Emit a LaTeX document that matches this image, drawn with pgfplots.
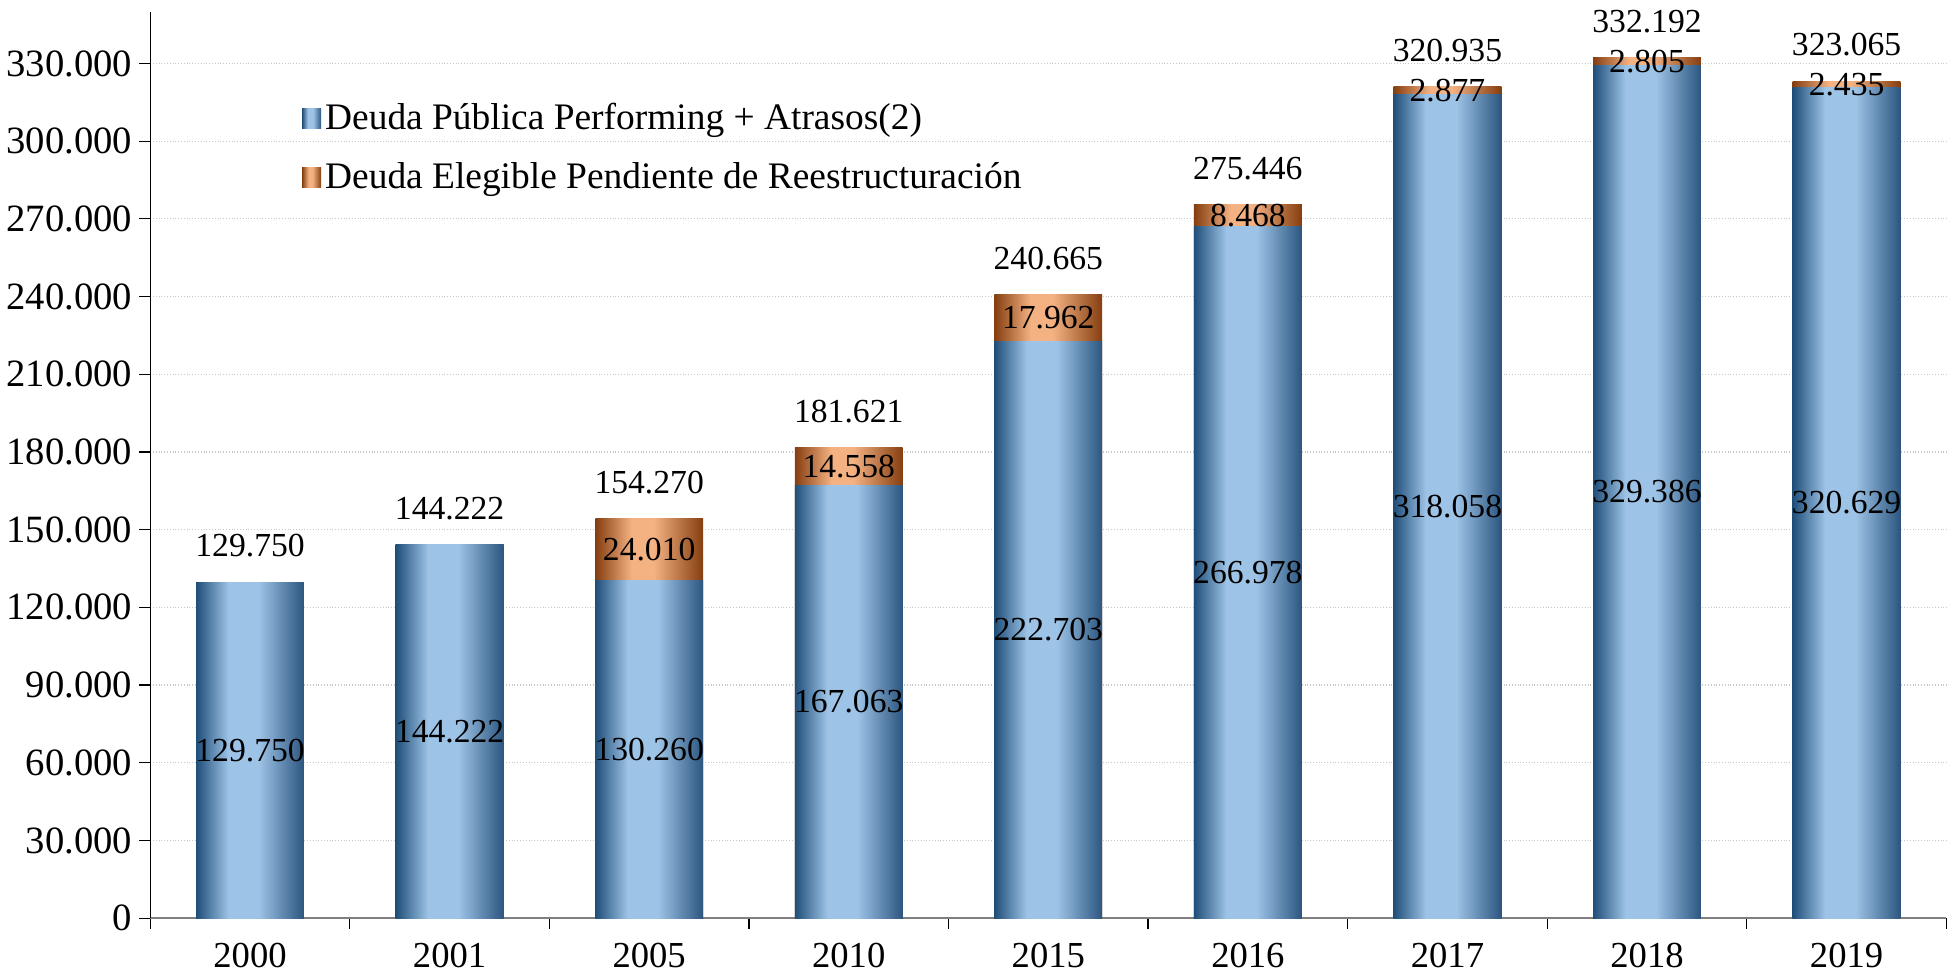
\documentclass[border=0pt]{standalone}
\usepackage{pgfplots}
\pgfplotsset{compat=1.18}
\usepackage{pgfplotstable}
\usepackage{fontspec}
\setmainfont{Liberation Serif}
\definecolor{bdark}{RGB}{31,78,121}
\definecolor{blight}{RGB}{157,195,230}
\definecolor{bdarkr}{RGB}{44,86,128}
\definecolor{odark}{RGB}{133,62,16}
\definecolor{olight}{RGB}{244,178,131}
\definecolor{gridc}{RGB}{200,200,200}
\pgfdeclarehorizontalshading{blueshade}{100bp}{color(0bp)=(bdark); color(25bp)=(bdark); color(40bp)=(blight); color(54bp)=(blight); color(75bp)=(bdarkr); color(100bp)=(bdarkr)}
\pgfdeclarehorizontalshading{orangeshade}{100bp}{color(0bp)=(odark); color(25bp)=(odark); color(42bp)=(olight); color(52bp)=(olight); color(75bp)=(odark); color(100bp)=(odark)}

\pgfplotstableread{
x year a b t
0 2000 129750 0 129750
1 2001 144222 0 144222
2 2005 130260 24010 154270
3 2010 167063 14558 181621
4 2015 222703 17962 240665
5 2016 266978 8468 275446
6 2017 318058 2877 320935
7 2018 329386 2805 332192
8 2019 320629 2435 323065
}\data

\pgfplotsset{
  base/.style={
    scale only axis, width=897.5pt, height=453pt,
    xmin=-0.5, xmax=8.5, ymin=0, ymax=350000,
  },
  lbl/.style={
    only marks, mark=*, mark size=0pt, mark options={draw=none, fill=none},
    nodes near coords, point meta=explicit,
    every node near coord/.append style={anchor=center, inner sep=0pt, font=\fontsize{16.8}{19}\selectfont, text=black},
  },
}

\begin{document}
\begin{tikzpicture}
\begin{axis}[base,
  ybar, bar width=0.54,
  axis x line=bottom, axis y line=left,
  x axis line style={-, draw=gray, line width=1.1pt},
  y axis line style={-, draw=black, line width=0.6pt},
  tick align=outside, major tick length=5.5pt,
  xtick={-0.5,0.5,...,8.5}, xticklabels={},
  extra x ticks={0,1,2,3,4,5,6,7,8},
  extra x tick labels={2000,2001,2005,2010,2015,2016,2017,2018,2019},
  extra x tick style={major tick length=0pt, grid=none, xticklabel style={inner sep=2pt, yshift=-10.3pt, font=\fontsize{18.3}{21}\selectfont}},
  xtick style={draw=black, line width=0.6pt},
  ytick={0,30000,...,330000},
  ytick style={draw=black, line width=0.6pt},
  scaled y ticks=false,
  yticklabel style={font=\fontsize{19.3}{22}\selectfont, /pgf/number format/.cd, fixed, precision=0, 1000 sep={.}},
  /pgf/number format/assume math mode=true,
  ymajorgrids=true, xmajorgrids=false,
  grid style={densely dotted, draw=gridc, line width=0.6pt},
  legend style={at={(rel axis cs:0.081,0.908)}, anchor=north west, draw=none, fill=none,
    font=\fontsize{18.7}{21}\selectfont, row sep=11pt},
  legend cell align=left,
]
\pgfplotsinvokeforeach{0,...,8}{
  \addplot[bar shift=0pt, draw=none, shade, shading=orangeshade, forget plot,
    restrict x to domain=#1:#1] table[x=x, y=t]{\data};
  \addplot[bar shift=0pt, draw=none, shade, shading=blueshade, forget plot,
    restrict x to domain=#1:#1] table[x=x, y=a]{\data};
}
\addlegendimage{legend image code/.code={\path[draw=none, shade, shading=blueshade] (0pt,-5pt) rectangle (9.5pt,5pt);}}
\addlegendentry{Deuda Pública Performing + Atrasos(2)}
\addlegendimage{legend image code/.code={\path[draw=none, shade, shading=orangeshade] (0pt,-5pt) rectangle (9.5pt,5pt);}}
\addlegendentry{Deuda Elegible Pendiente de Reestructuración}
\end{axis}
\begin{axis}[base, hide axis, clip=false,
  /pgf/number format/.cd, fixed, precision=0, 1000 sep={.}, assume math mode=true]
\addplot[lbl] table[x=x, y expr=\thisrow{a}/2, meta=a]{\data};
\addplot[lbl, skip coords between index={0}{2}] table[x=x, y expr=\thisrow{a}+\thisrow{b}/2, meta=b]{\data};
\addplot[lbl, every node near coord/.append style={anchor=south, inner sep=5pt, yshift=7.3pt}] table[x=x, y=t, meta=t]{\data};
\end{axis}
\end{tikzpicture}
\end{document}
